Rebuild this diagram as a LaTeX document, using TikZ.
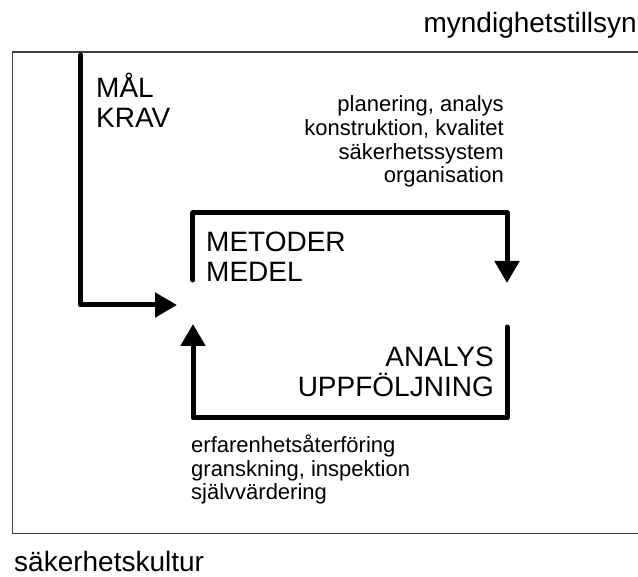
\documentclass[tikz,border=0pt]{standalone}
\usepackage{fontspec}
\setmainfont{Liberation Sans}
\usetikzlibrary{arrows.meta}
\begin{document}
\begin{tikzpicture}[x=1pt,y=-1pt,
  flow/.style={line width=5pt,line cap=round,line join=round,
    -{Triangle[length=22pt,width=24pt]}},
  big/.style={inner sep=0pt,font=\fontsize{28}{30}\selectfont},
  small/.style={inner sep=0pt,font=\fontsize{22}{23.7}\selectfont}]
\useasboundingbox (0,0) rectangle (638,577);

% frame, open on the right
\draw[line width=1.3pt,black!75] (638,52) -- (12.7,52) -- (12.7,533.7) -- (638,533.7);

% labels (multi-line nodes are placed by the baseline of their last line)
\node[big,anchor=base east] (tillsyn) at (637,33) {myndighetstillsyn};
\node[big,anchor=base west] (kultur) at (14,572) {säkerhetskultur};
\node[big,anchor=base west,align=left] (mal) at (96,128) {MÅL\\KRAV};
\node[small,anchor=base east,align=right] (plan) at (504,183)
  {planering, analys\\konstruktion, kvalitet\\säkerhetssystem\\organisation};
\node[big,anchor=base west,align=left] (metoder) at (206,282) {METODER\\MEDEL};
\node[big,anchor=base east,align=right] (analys) at (494,397) {ANALYS\\UPPFÖLJNING};
\node[small,anchor=base west,align=left] (erf) at (191,500)
  {erfarenhetsåterföring\\granskning, inspektion\\självvärdering};

% arrow path points
\coordinate (malTop) at (80.7,55);
\coordinate (malCorner) at (80.7,305);
\coordinate (inMetod) at (177,305);
\coordinate (upStart) at (192.7,280);
\coordinate (upTL) at (192.7,213);
\coordinate (upTR) at (507,213);
\coordinate (upEnd) at (507,283);
\coordinate (loStart) at (507,327);
\coordinate (loBR) at (507,418);
\coordinate (loBL) at (193,418);
\coordinate (loEnd) at (193,324);

\draw[flow] (malTop) -- (malCorner) -- (inMetod);
\draw[flow] (upStart) -- (upTL) -- (upTR) -- (upEnd);
\draw[flow] (loStart) -- (loBR) -- (loBL) -- (loEnd);
\end{tikzpicture}
\end{document}
